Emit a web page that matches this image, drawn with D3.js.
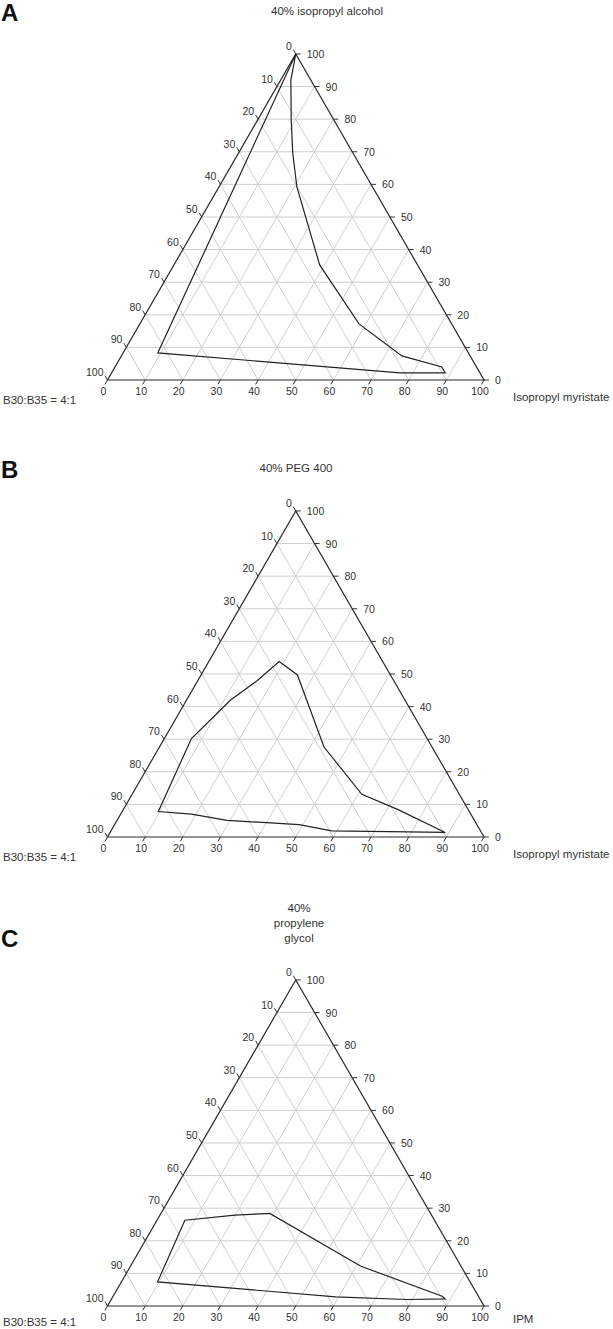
<!DOCTYPE html>
<html>
<head>
<meta charset="utf-8">
<script src="https://cdn.jsdelivr.net/npm/d3@7"></script>
<style>
  body { margin: 0; background: #fff; }
  text { font-family: Arial, "Liberation Sans", sans-serif; fill: #333; }
</style>
</head>
<body>
<svg id="chart" width="613" height="1329"></svg>
<script>
//* Ternary phase diagrams *//

const TICKS = [0, 10, 20, 30, 40, 50, 60, 70, 80, 90, 100];
const LETTERS = ["A", "B", "C"];
const TITLES = [["40% isopropyl alcohol"], ["40% PEG 400"], ["40%", "propylene", "glycol"]];
const OIL_LABELS = ["Isopropyl myristate", "Isopropyl myristate", "IPM"];
const SURF_LABEL = "B30:B35 = 4:1";

// boundary of each region: % IPM and % of the top (co-solvent mix) component
const ipmA = [0, 2.7, 8.9, 14.4, 20.7, 38.7, 58.2, 74.5, 86.8, 88.6, 76.6, 9.2];
const topA = [100, 92.0, 79.8, 69.6, 59.2, 35.3, 17.2, 7.4, 4.0, 2.2, 2.2, 8.3];

const ipmB = [18.7, 25.6, 43.7, 61.0, 73.0, 89.0, 58.6, 49.0, 29.2, 18.8, 9.6, 7.2, 11.7, 15.8];
const topB = [53.8, 49.7, 27.6, 13.1, 8.4, 1.4, 1.9, 3.8, 5.1, 7.0, 7.8, 30.2, 42.0, 48.0];

const ipmC = [9.6, 7.4, 19.9, 28.9, 61.2, 87.4, 88.6, 78.5, 59.2, 39.8];
const topC = [7.4, 26.3, 27.9, 28.4, 12.2, 3.0, 2.2, 2.0, 2.8, 4.6];

const REGIONS = [
  ipmA.map((d, i) => [d, topA[i]]),
  ipmB.map((d, i) => [d, topB[i]]),
  ipmC.map((d, i) => [d, topC[i]])
];

// layout
const LEFT = 107.5, RIGHT = 484;
const WIDTH = RIGHT - LEFT;
const HEIGHT = WIDTH * Math.sqrt(3) / 2;
const BASE = 380;
const OFFSETS = [0, 457, 926];
const TITLE_X = [327, 296, 299];
const LABEL_DY = [24, 24, 20];
const TICK = 5;

const svg = d3.select('#chart');

OFFSETS.forEach((off, p) => {
  const base = BASE + off;
  const xScale = d3.scaleLinear().domain([0, 100]).range([LEFT, RIGHT]);
  const yScale = d3.scaleLinear().domain([0, 100]).range([base, base - HEIGHT]);
  // ternary -> screen
  const proj = (ipm, top) => [xScale(ipm + top / 2), yScale(top)];

  const g = svg.append('g');

  //Grid
  const inner = TICKS.slice(1, -1);
  const gridSegs = [];
  inner.forEach(v => {
    gridSegs.push([proj(0, v), proj(100 - v, v)]);       // constant top
    gridSegs.push([proj(v, 0), proj(v, 100 - v)]);       // constant IPM
    gridSegs.push([proj(100 - v, 0), proj(0, 100 - v)]); // constant surfactant
  });
  g.selectAll('.grid')
    .data(gridSegs)
    .enter()
    .append('line')
    .attr('x1', d => d[0][0]).attr('y1', d => d[0][1])
    .attr('x2', d => d[1][0]).attr('y2', d => d[1][1])
    .attr('stroke', '#cfcfcf')
    .attr('stroke-width', 1);

  //Frame
  g.append('path')
    .attr('d', d3.line()([proj(0, 0), proj(100, 0), proj(0, 100)]) + 'Z')
    .attr('fill', 'none')
    .attr('stroke', '#2a2a2a')
    .attr('stroke-width', 1.2);

  //Bottom axis (IPM)
  const bottom = g.selectAll('.btick').data(TICKS).enter().append('g');
  bottom.append('line')
    .attr('x1', d => proj(d, 0)[0]).attr('y1', base)
    .attr('x2', d => proj(d, 0)[0] - TICK * 0.5).attr('y2', base + TICK * 0.866)
    .attr('stroke', '#333');
  bottom.append('text')
    .attr('x', d => proj(d, 0)[0] - 4)
    .attr('y', base + 15)
    .attr('text-anchor', 'middle')
    .attr('font-size', '10.5px')
    .text(d => d);

  //Right axis (top component)
  const right = g.selectAll('.rtick').data(TICKS).enter().append('g');
  right.append('line')
    .attr('x1', d => proj(100 - d, d)[0]).attr('y1', d => yScale(d))
    .attr('x2', d => proj(100 - d, d)[0] + TICK).attr('y2', d => yScale(d))
    .attr('stroke', '#333');
  right.append('text')
    .attr('x', d => proj(100 - d, d)[0] + 11)
    .attr('y', d => yScale(d) + 4)
    .attr('font-size', '10.5px')
    .text(d => d);

  //Left axis (surfactant)
  const left = g.selectAll('.ltick').data(TICKS).enter().append('g');
  left.append('line')
    .attr('x1', d => proj(0, 100 - d)[0]).attr('y1', d => yScale(100 - d))
    .attr('x2', d => proj(0, 100 - d)[0] - TICK * 0.5).attr('y2', d => yScale(100 - d) - TICK * 0.866)
    .attr('stroke', '#333');
  left.append('text')
    .attr('x', d => proj(0, 100 - d)[0] - 4)
    .attr('y', d => yScale(100 - d) - 4)
    .attr('text-anchor', 'end')
    .attr('font-size', '10.5px')
    .text(d => d);

  //Region boundary
  g.append('path')
    .datum(REGIONS[p])
    .attr('d', d3.line().x(d => proj(d[0], d[1])[0]).y(d => proj(d[0], d[1])[1]).curve(d3.curveLinearClosed))
    .attr('fill', 'none')
    .attr('stroke', '#222')
    .attr('stroke-width', 1.2);

  //Labels
  g.append('text')
    .attr('x', 1)
    .attr('y', 21 + off)
    .attr('font-size', '24px')
    .attr('font-weight', 'bold')
    .style('fill', '#111')
    .text(LETTERS[p]);

  const lines = TITLES[p];
  g.selectAll('.title')
    .data(lines)
    .enter()
    .append('text')
    .attr('x', TITLE_X[p])
    .attr('y', (d, i) => (lines.length > 1 ? off - 14 : 15 + off) + i * 15)
    .attr('text-anchor', 'middle')
    .attr('font-size', '11.5px')
    .text(d => d);

  g.append('text')
    .attr('x', 3)
    .attr('y', base + LABEL_DY[p])
    .attr('font-size', '11.5px')
    .text(SURF_LABEL);

  g.append('text')
    .attr('x', 513)
    .attr('y', base + LABEL_DY[p] - 3)
    .attr('font-size', '11.5px')
    .text(OIL_LABELS[p]);
});
</script>
</body>
</html>
